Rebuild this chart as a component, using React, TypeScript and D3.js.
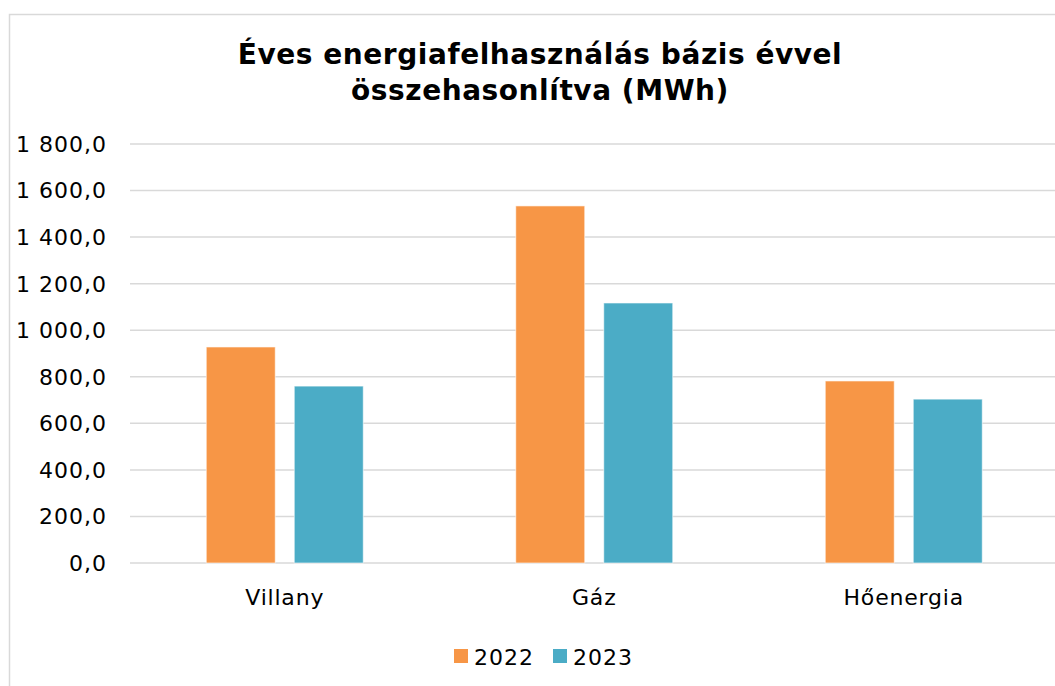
import React, { useRef, useEffect } from 'react';
import * as d3 from 'd3';

const categories = ['Villany', 'Gáz', 'Hőenergia'];
const seriesNames = ['2022', '2023'];
const values2022 = [928, 1534, 782];
const values2023 = [760, 1117, 704];
const yTicks = [0, 200, 400, 600, 800, 1000, 1200, 1400, 1600, 1800];
const titleLines = ['Éves energiafelhasználás bázis évvel', 'összehasonlítva (MWh)'];

const colors = ['#F79646', '#4BACC6'];

const App: React.FC = () => {
  const svgRef = useRef<SVGSVGElement>(null);

  useEffect(() => {
    if (!svgRef.current) return;
    const width = 1055;
    const height = 686;
    const font = 'Verdana, "DejaVu Sans", sans-serif';

    const svg = d3.select(svgRef.current);
    svg.selectAll('*').remove();

    // Chart area border
    svg.append('rect')
      .attr('x', 9.5)
      .attr('y', 14.5)
      .attr('width', width + 10)
      .attr('height', height + 10)
      .attr('fill', 'white')
      .attr('stroke', '#d9d9d9')
      .attr('stroke-width', 1.5);

    // Title
    svg.append('g')
      .selectAll('text')
      .data(titleLines)
      .enter()
      .append('text')
      .attr('x', 540)
      .attr('y', (d, i) => 64 + i * 36)
      .attr('text-anchor', 'middle')
      .attr('font-family', font)
      .attr('font-weight', 'bold')
      .attr('font-size', '28px')
      .attr('letter-spacing', '0.55px')
      .attr('fill', '#000')
      .text(d => d);

    const plot = { left: 130, right: 1058.5, top: 144, bottom: 563 };
    const groupWidth = 157;

    const y = d3.scaleLinear()
      .domain([0, 1800])
      .range([plot.bottom, plot.top]);

    const x0 = d3.scaleBand()
      .domain(categories)
      .range([plot.left, plot.right])
      .paddingInner(0)
      .paddingOuter(0);

    const x1 = d3.scaleBand()
      .domain(seriesNames)
      .range([0, groupWidth])
      .paddingInner(0.216)
      .paddingOuter(0);

    // Gridlines
    svg.append('g')
      .selectAll('line')
      .data(yTicks)
      .enter()
      .append('line')
      .attr('x1', plot.left)
      .attr('x2', plot.right)
      .attr('y1', d => y(d))
      .attr('y2', d => y(d))
      .attr('stroke', '#d9d9d9')
      .attr('stroke-width', 1.5);

    // Y tick labels
    const fmt = (v: number) => {
      const s = v.toFixed(1).replace('.', ',');
      const [int, dec] = s.split(',');
      const grouped = int.replace(/\B(?=(\d{3})+(?!\d))/g, ' ');
      return `${grouped},${dec}`;
    };
    svg.append('g')
      .selectAll('text')
      .data(yTicks)
      .enter()
      .append('text')
      .attr('x', 107)
      .attr('y', d => y(d))
      .attr('dy', '0.36em')
      .attr('text-anchor', 'end')
      .attr('font-family', font)
      .attr('font-size', '22px')
      .attr('letter-spacing', '1px')
      .attr('fill', '#000')
      .text(d => fmt(d));

    // Bars
    const data = categories.map((c, i) => ({ category: c, vals: [values2022[i], values2023[i]] }));
    const groups = svg.append('g')
      .selectAll('g')
      .data(data)
      .enter()
      .append('g')
      .attr('transform', d => `translate(${(x0(d.category) as number) + (x0.bandwidth() - groupWidth) / 2},0)`);

    groups.selectAll('rect')
      .data(d => d.vals.map((v, j) => ({ key: seriesNames[j], v, j })))
      .enter()
      .append('rect')
      .attr('x', d => x1(d.key) as number)
      .attr('y', d => y(d.v))
      .attr('width', x1.bandwidth())
      .attr('height', d => y(0) - y(d.v))
      .attr('fill', d => colors[d.j])
      .attr('stroke', 'rgba(255,255,255,0.6)')
      .attr('stroke-width', 1);

    // Category labels
    svg.append('g')
      .selectAll('text')
      .data(categories)
      .enter()
      .append('text')
      .attr('x', d => (x0(d) as number) + x0.bandwidth() / 2)
      .attr('y', 605)
      .attr('text-anchor', 'middle')
      .attr('font-family', font)
      .attr('font-size', '22px')
      .attr('letter-spacing', '0.8px')
      .attr('fill', '#000')
      .text(d => d);

    // Legend
    const legend = svg.append('g');
    const legendX = [454, 553];
    seriesNames.forEach((name, i) => {
      legend.append('rect')
        .attr('x', legendX[i])
        .attr('y', 649)
        .attr('width', 14)
        .attr('height', 14)
        .attr('fill', colors[i]);
      legend.append('text')
        .attr('x', legendX[i] + 20)
        .attr('y', 665)
        .attr('font-family', font)
        .attr('font-size', '22px')
        .attr('letter-spacing', '1px')
        .attr('fill', '#000')
        .text(name);
    });
  }, []);

  return (
    <svg ref={svgRef} width={1055} height={686} style={{ position: 'absolute', left: 0, top: 0 }} />
  );
};

export default App;
